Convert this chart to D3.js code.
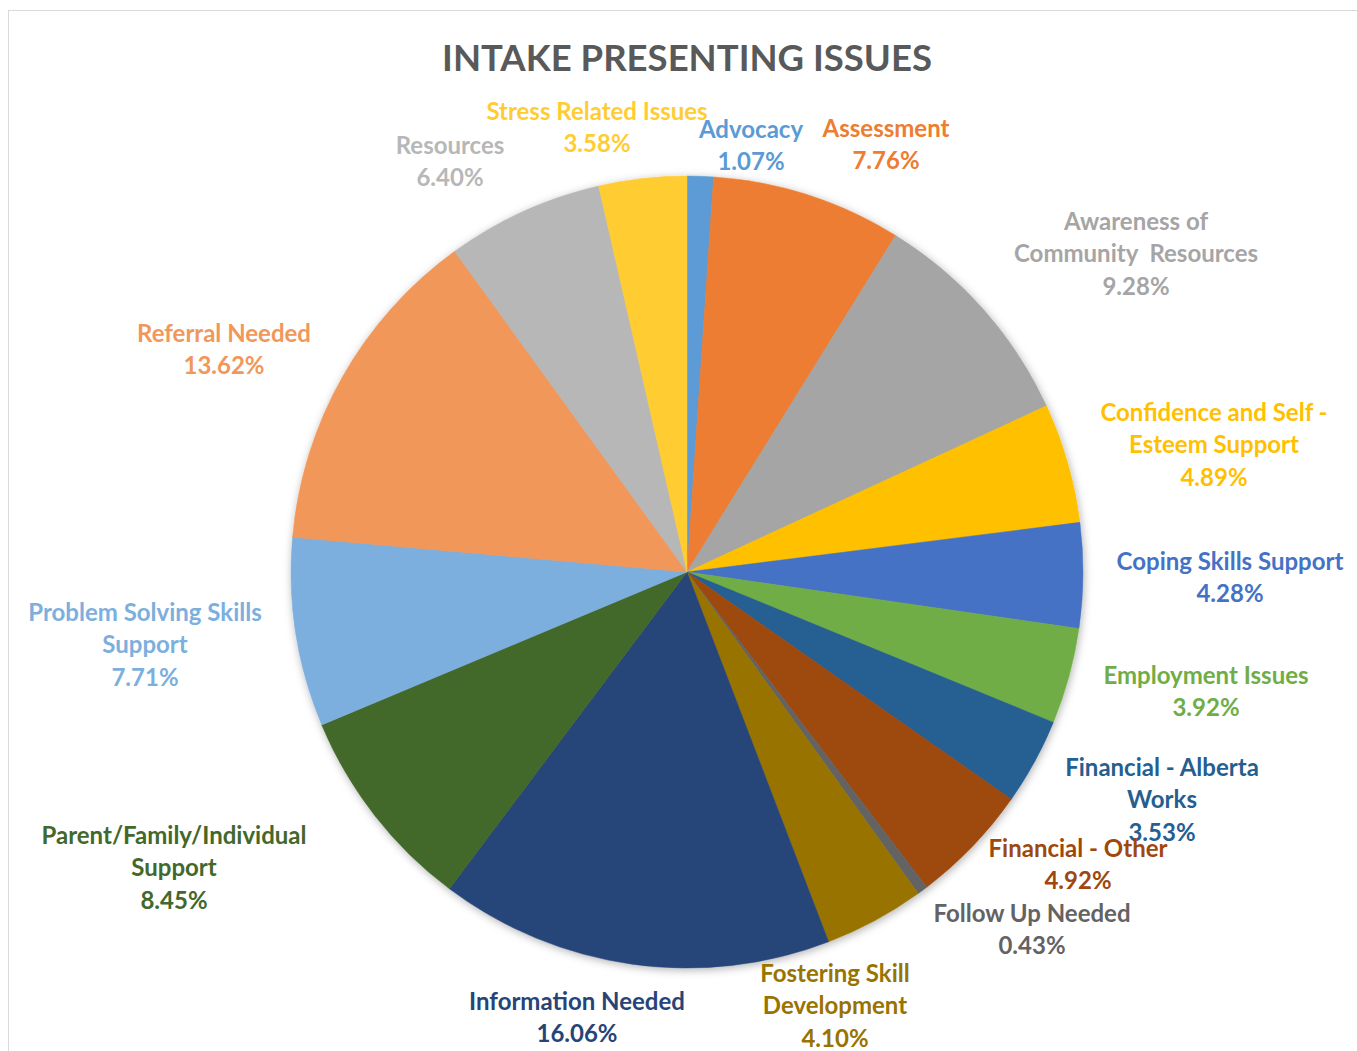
<!DOCTYPE html>
<html>
<head>
<meta charset="utf-8">
<script src="https://cdn.jsdelivr.net/npm/d3@7/dist/d3.min.js"></script>
<style>
  html, body { margin: 0; padding: 0; background: #ffffff; }
  svg { display: block; }
  text { font-family: Lato, "Open Sans", "Noto Sans", sans-serif; font-weight: 700; }
</style>
</head>
<body>
<div id="chart"></div>
<script>
// Intake presenting issues: share of intakes by issue, clockwise from 12 o'clock.
const categories = [
  "Advocacy",
  "Assessment",
  "Awareness of\nCommunity  Resources",
  "Confidence and Self -\nEsteem Support",
  "Coping Skills Support",
  "Employment Issues",
  "Financial - Alberta\nWorks",
  "Financial - Other",
  "Follow Up Needed",
  "Fostering Skill\nDevelopment",
  "Information Needed",
  "Parent/Family/Individual\nSupport",
  "Problem Solving Skills\nSupport",
  "Referral Needed",
  "Resources",
  "Stress Related Issues"
];

const shares = [1.07, 7.76, 9.28, 4.89, 4.28, 3.92, 3.53, 4.92, 0.43, 4.10, 16.06, 8.45, 7.71, 13.62, 6.40, 3.58];

const sliceColors = [
  "#5B9BD5", "#ED7D31", "#A5A5A5", "#FFC000", "#4472C4", "#70AD47",
  "#255E91", "#9E480E", "#636363", "#997300", "#264478", "#43682B",
  "#7CAFDD", "#F1975A", "#B7B7B7", "#FFCD33"
];

const chartTitle = "INTAKE PRESENTING ISSUES";

// Where each label's first line sits, relative to the pie centre (px).
const labelOffsets = [
  [64, -443], [199, -444], [449, -351], [527, -160], [543, -11], [519, 103],
  [475, 195], [391, 276], [345, 341], [148, 401], [-110, 429], [-513, 263],
  [-542, 40], [-463, -239], [-237, -427], [-90, -461]
];

const W = 1357, H = 1051;
const cx = 687, cy = 572, radius = 396;
const lineGap = 32.5;
const fmtPct = d3.format(".2f");

const svg = d3.select("#chart").append("svg")
  .attr("width", W).attr("height", H);

const defs = svg.append("defs");
const shadow = defs.append("filter").attr("id", "pieShadow")
  .attr("x", "-10%").attr("y", "-10%").attr("width", "120%").attr("height", "120%");
shadow.append("feDropShadow")
  .attr("dx", 1).attr("dy", 2).attr("stdDeviation", 4)
  .attr("flood-color", "#000").attr("flood-opacity", 0.3);

// chart area border
svg.append("rect")
  .attr("x", 8.5).attr("y", 10.5)
  .attr("width", W + 20).attr("height", H + 20)
  .attr("fill", "none").attr("stroke", "#D9D9D9").attr("stroke-width", 1);

svg.append("text")
  .attr("x", cx).attr("y", 71)
  .attr("text-anchor", "middle")
  .attr("font-size", 36.5)
  .attr("fill", "#595959")
  .text(chartTitle);

const pie = d3.pie().sort(null).value(d => d)
  .startAngle(0).endAngle(2 * Math.PI);
const arc = d3.arc().innerRadius(0).outerRadius(radius);
const arcs = pie(shares);

const g = svg.append("g").attr("transform", `translate(${cx},${cy})`);

const slices = g.append("g").attr("filter", "url(#pieShadow)");
slices.selectAll("path")
  .data(arcs)
  .join("path")
  .attr("d", arc)
  .attr("fill", (d, i) => sliceColors[i])
  .attr("stroke", (d, i) => sliceColors[i])
  .attr("stroke-width", 0.5);

const labels = g.append("g").selectAll("text")
  .data(arcs)
  .join("text")
  .attr("text-anchor", "middle")
  .attr("font-size", 24)
  .attr("fill", (d, i) => sliceColors[i])
  .attr("transform", (d, i) => `translate(${labelOffsets[i][0]},${labelOffsets[i][1]})`);

labels.each(function (d, i) {
  const lines = categories[i].split("\n").concat([fmtPct(d.value) + "%"]);
  d3.select(this).selectAll("tspan")
    .data(lines)
    .join("tspan")
    .attr("x", 0)
    .attr("y", (t, k) => k * lineGap)
    .attr("dy", "0.36em")
    .attr("xml:space", "preserve")
    .text(t => t);
});
</script>
</body>
</html>
